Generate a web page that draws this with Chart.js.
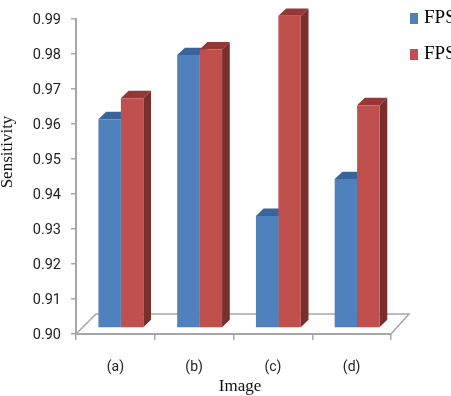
<!DOCTYPE html>
<html>
<head>
<meta charset="utf-8">
<style>html,body{margin:0;padding:0;background:#fff;overflow:hidden}canvas{display:block}</style>
<script src="https://cdn.jsdelivr.net/npm/chart.js@4"></script>
</head>
<body>
<canvas id="c" width="451" height="396"></canvas>
<script>
const categories = ['(a)', '(b)', '(c)', '(d)'];
const seriesNames = ['FPS', 'FPS'];
const seriesBlue = [0.9596, 0.9779, 0.932, 0.9425];
const seriesRed = [0.9656, 0.9795, 0.9891, 0.9636];
const tickMin = 0.90, tickMax = 0.99, tickStep = 0.01;

const blue = {front: '#4F81BD', top: '#3A659B', side: '#2F5488'};
const red = {front: '#C0504D', top: '#953735', side: '#7B2F2D'};
const palette = [blue, red];

// Offset of the bar fronts from the back wall, and the extruded depth of each bar.
const shiftX = 5.5, shiftY = -6;
const depthX = 7.7, depthY = 7.4;
const axisGrey = '#A6A6A6';

const fake3d = {
  id: 'fake3d',
  beforeDatasetsDraw(chart) {
    const {ctx, chartArea: a} = chart;
    // floor of the plot box
    ctx.save();
    ctx.strokeStyle = axisGrey;
    ctx.lineWidth = 1.5;
    ctx.beginPath();
    ctx.moveTo(a.left, a.bottom);
    ctx.lineTo(a.left + 20, a.bottom - 20);
    ctx.lineTo(a.right + 18, a.bottom - 20);
    ctx.lineTo(a.right, a.bottom);
    ctx.stroke();
    // extruded tops and sides, painted before the bar fronts
    ctx.translate(shiftX, shiftY);
    chart.data.datasets.forEach((ds, i) => {
      chart.getDatasetMeta(i).data.forEach(bar => {
        const l = bar.x - bar.width / 2, r = bar.x + bar.width / 2;
        ctx.fillStyle = palette[i].top;
        ctx.beginPath();
        ctx.moveTo(l, bar.y);
        ctx.lineTo(l + depthX, bar.y - depthY);
        ctx.lineTo(r + depthX, bar.y - depthY);
        ctx.lineTo(r, bar.y);
        ctx.closePath();
        ctx.fill();
        ctx.fillStyle = palette[i].side;
        ctx.beginPath();
        ctx.moveTo(r, bar.y);
        ctx.lineTo(r + depthX, bar.y - depthY);
        ctx.lineTo(r + depthX, bar.base - depthY);
        ctx.lineTo(r, bar.base);
        ctx.closePath();
        ctx.fill();
      });
    });
    ctx.restore();
    // bar fronts sit forward of the wall
    ctx.save();
    ctx.translate(shiftX, shiftY);
  },
  afterDatasetsDraw(chart) {
    chart.ctx.restore();
  },
  afterDraw(chart) {
    const {ctx} = chart;
    ctx.save();
    ctx.fillStyle = '#111';
    ctx.textAlign = 'center';
    ctx.textBaseline = 'middle';
    ctx.font = '17px "Liberation Serif"';
    ctx.fillText('Image', 240, 387);
    ctx.save();
    ctx.translate(8, 152);
    ctx.rotate(-Math.PI / 2);
    ctx.fillText('Sensitivity', 0, 0);
    ctx.restore();
    // legend column runs past the right edge of the page
    const rows = [18.5, 54.5];
    ctx.textAlign = 'left';
    ctx.font = '19px "Liberation Serif"';
    rows.forEach((y, i) => {
      ctx.fillStyle = palette[i].front;
      ctx.fillRect(410, y - 5.5, 8, 11);
      ctx.fillStyle = '#000';
      ctx.fillText(seriesNames[i], 424, y);
    });
    ctx.restore();
  }
};

new Chart(document.getElementById('c'), {
  type: 'bar',
  data: {
    labels: categories,
    datasets: [
      {label: seriesNames[0], data: seriesBlue, backgroundColor: blue.front, clip: false, base: tickMin},
      {label: seriesNames[1], data: seriesRed, backgroundColor: red.front, clip: false, base: tickMin}
    ]
  },
  options: {
    responsive: false,
    animation: false,
    layout: {padding: {top: 18, right: 60, bottom: 0, left: 0}},
    datasets: {bar: {barPercentage: 1, categoryPercentage: 0.57}},
    plugins: {legend: {display: false}, title: {display: false}, tooltip: {enabled: false}},
    scales: {
      x: {
        afterFit(s) { s.height = 62; },
        border: {color: axisGrey, width: 2},
        grid: {drawOnChartArea: false, color: axisGrey, lineWidth: 1.5, tickLength: 6, tickColor: axisGrey},
        ticks: {color: '#222', font: {family: 'Roboto', size: 14}, padding: 19, maxRotation: 0}
      },
      y: {
        min: tickMin,
        max: tickMax,
        afterFit(s) { s.width = 76; },
        border: {color: axisGrey, width: 2},
        grid: {drawOnChartArea: false, color: axisGrey, lineWidth: 1.5, tickLength: 5, tickColor: axisGrey},
        ticks: {
          stepSize: tickStep,
          color: '#222',
          font: {family: 'Roboto', size: 14.5},
          padding: 10,
          labelOffset: 1.5,
          callback: v => Number(v).toFixed(2)
        }
      }
    }
  },
  plugins: [fake3d]
});
</script>
</body>
</html>
